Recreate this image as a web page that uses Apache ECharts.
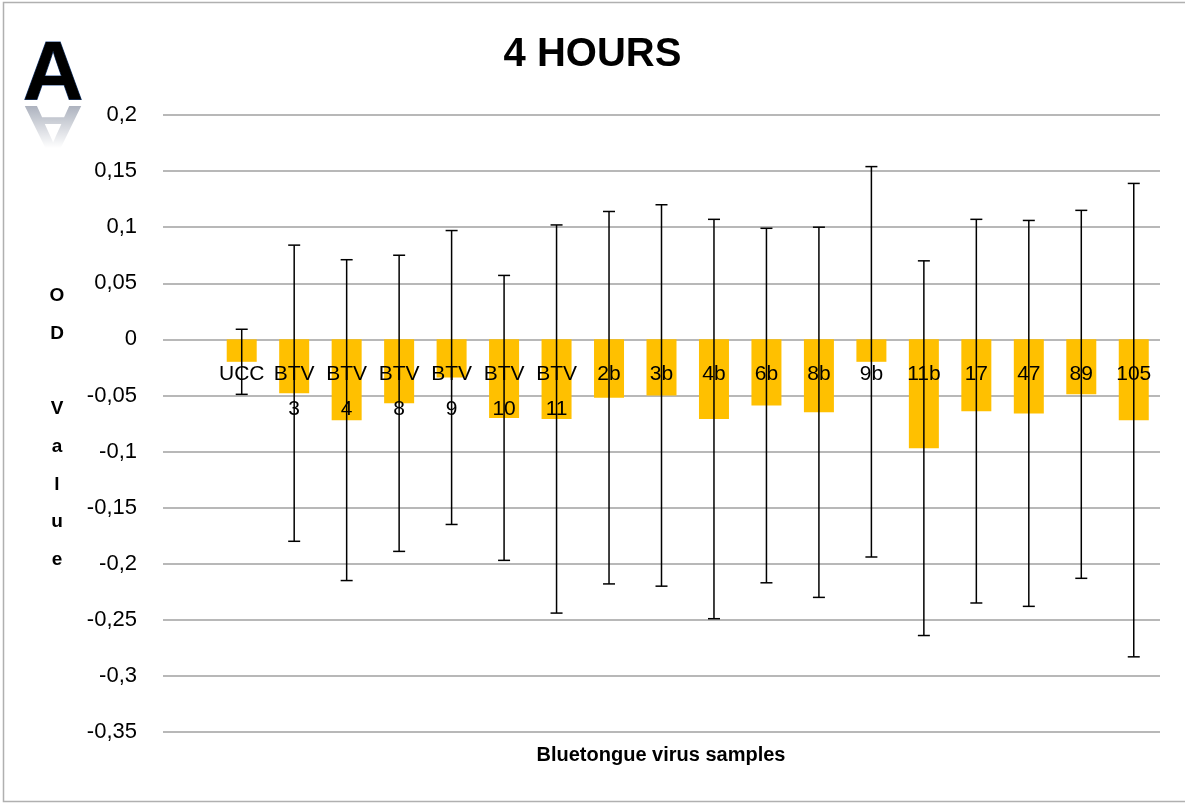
<!DOCTYPE html>
<html>
<head>
<meta charset="utf-8">
<script src="https://cdn.jsdelivr.net/npm/echarts@6/dist/echarts.min.js"></script>
<style>
html,body{margin:0;padding:0;background:#fff;}
#main{width:1185px;height:803px;}
</style>
</head>
<body>
<div id="main"></div>
<script>
// ---- data ----
var categories = ['UCC', 'BTV\n3', 'BTV\n4', 'BTV\n8', 'BTV\n9', 'BTV\n10', 'BTV\n11', '2b', '3b', '4b', '6b', '8b', '9b', '11b', '17', '47', '89', '105'];
var odValues   = [-0.020, -0.048, -0.072, -0.057, -0.034, -0.070, -0.071, -0.052, -0.050, -0.071, -0.059, -0.065, -0.020, -0.097, -0.064, -0.066, -0.049, -0.072];
var errHigh    = [0.009, 0.084, 0.071, 0.075, 0.097, 0.057, 0.102, 0.114, 0.120, 0.107, 0.099, 0.100, 0.154, 0.070, 0.107, 0.106, 0.115, 0.139];
var errLow     = [-0.049, -0.180, -0.215, -0.189, -0.165, -0.197, -0.244, -0.218, -0.220, -0.249, -0.217, -0.230, -0.194, -0.264, -0.235, -0.238, -0.213, -0.283];
var yTicks     = {min: -0.35, max: 0.2, step: 0.05};

var FONT = 'Liberation Sans';
var GRID = {left: 163, right: 25, top: 115, bottom: 71};
var H = 803;

// an empty leading category slot, as in the original plot area
var xCats = [''].concat(categories);
var barData = [null].concat(odValues);
var errData = categories.map(function (c, i) { return [i + 1, errLow[i], errHigh[i]]; });

// place the category axis at value 0 (as in the original)
var gridH = H - GRID.top - GRID.bottom;
var zeroFromBottom = gridH * (0 - yTicks.min) / (yTicks.max - yTicks.min);

var chart = echarts.init(document.getElementById('main'), null, {renderer: 'canvas'});

chart.setOption({
  backgroundColor: '#fff',
  animation: false,
  title: {
    text: '4 HOURS',
    left: 'center',
    top: 30,
    textStyle: {fontFamily: FONT, fontSize: 40, fontWeight: 'bold', color: '#000'}
  },
  grid: {left: GRID.left, right: GRID.right, top: GRID.top, bottom: GRID.bottom, containLabel: false, outerBoundsMode: 'none'},
  xAxis: {
    type: 'category',
    data: xCats,
    z: 10,
    offset: -zeroFromBottom,
    axisLine: {show: false, onZero: false},
    axisTick: {show: false},
    splitLine: {show: false},
    axisLabel: {
      interval: 0,
      margin: 17,
      fontFamily: FONT,
      fontSize: 21,
      lineHeight: 35,
      color: '#000'
    }
  },
  yAxis: {
    type: 'value',
    min: yTicks.min,
    max: yTicks.max,
    interval: yTicks.step,
    axisLine: {show: false},
    axisTick: {show: false},
    axisLabel: {
      margin: 26,
      fontFamily: FONT,
      fontSize: 22,
      color: '#000',
      formatter: function (v) {
        var r = Math.round(v * 100) / 100;
        return String(r).replace('.', ',');
      }
    },
    splitLine: {lineStyle: {color: '#a0a0a0', width: 1.5}}
  },
  series: [
    {
      type: 'bar',
      data: barData,
      barWidth: 30,
      itemStyle: {color: '#FFC000'},
      z: 2
    },
    {
      type: 'custom',
      z: 5,
      data: errData,
      renderItem: function (params, api) {
        var x = api.value(0);
        var lo = api.coord([x, api.value(1)]);
        var hi = api.coord([x, api.value(2)]);
        var cap = 6;
        var st = {stroke: '#000', lineWidth: 1.5};
        return {
          type: 'group',
          children: [
            {type: 'line', shape: {x1: lo[0], y1: lo[1], x2: hi[0], y2: hi[1]}, style: st},
            {type: 'line', shape: {x1: hi[0] - cap, y1: hi[1], x2: hi[0] + cap, y2: hi[1]}, style: st},
            {type: 'line', shape: {x1: lo[0] - cap, y1: lo[1], x2: lo[0] + cap, y2: lo[1]}, style: st}
          ]
        };
      }
    }
  ],
  graphic: [
    {
      type: 'rect',
      shape: {x: 3.5, y: 2.5, width: 1190, height: 799},
      style: {fill: null, stroke: '#b0b0b0', lineWidth: 1.5},
      silent: true, z: 0
    },
    {
      type: 'text',
      x: 661, y: 755,
      style: {
        text: 'Bluetongue virus samples',
        fontFamily: FONT, fontSize: 20, fontWeight: 'bold', fill: '#000',
        align: 'center', verticalAlign: 'middle'
      }
    },
    {
      type: 'text',
      x: 57, y: 277,
      style: {
        text: 'O\nD\n\nV\na\nl\nu\ne',
        fontFamily: FONT, fontSize: 19, fontWeight: 'bold', fill: '#000',
        align: 'center', verticalAlign: 'top', lineHeight: 37.7
      }
    },
    {
      type: 'text',
      x: 53, y: 119,
      z: 20,
      style: {
        text: 'A',
        fontFamily: FONT, fontSize: 84, fontWeight: 'bold', fill: '#000',
        stroke: '#2a4f8a', lineWidth: 1,
        align: 'center', verticalAlign: 'bottom'
      }
    },
    {
      type: 'text',
      x: 53, y: 92,
      scaleY: -0.75,
      z: 20,
      style: {
        text: 'A',
        fontFamily: FONT, fontSize: 84, fontWeight: 'bold',
        fill: 'rgba(95,105,130,0.55)',
        align: 'center', verticalAlign: 'bottom'
      }
    },
    {
      type: 'rect',
      z: 21,
      shape: {x: 15, y: 103, width: 80, height: 60},
      style: {
        fill: {
          type: 'linear', x: 0, y: 0, x2: 0, y2: 1, global: false,
          colorStops: [
            {offset: 0, color: 'rgba(255,255,255,0)'},
            {offset: 0.75, color: 'rgba(255,255,255,1)'},
            {offset: 1, color: 'rgba(255,255,255,1)'}
          ]
        }
      }
    }
  ]
});
</script>
</body>
</html>
